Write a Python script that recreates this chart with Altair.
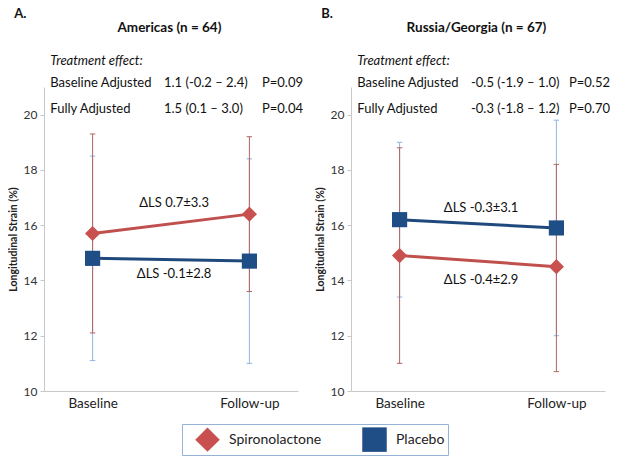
import altair as alt
import pandas as pd

# ---------------- data ----------------
times = ["Baseline", "Follow-up"]
groups = ["Spironolactone", "Placebo"]

# Panel A: Americas
a_spiro_mean = [15.7, 16.4]
a_spiro_lo = [12.1, 13.6]
a_spiro_hi = [19.3, 19.2]
a_plac_mean = [14.8, 14.7]
a_plac_lo = [11.1, 11.0]
a_plac_hi = [18.5, 18.4]
a_delta = ["ΔLS 0.7±3.3", "ΔLS -0.1±2.8"]
a_effect_est = ["1.1 (-0.2 – 2.4)", "1.5 (0.1 – 3.0)"]
a_effect_p = ["P=0.09", "P=0.04"]

# Panel B: Russia/Georgia
b_spiro_mean = [14.9, 14.5]
b_spiro_lo = [11.0, 10.7]
b_spiro_hi = [18.8, 18.2]
b_plac_mean = [16.2, 15.9]
b_plac_lo = [13.4, 12.0]
b_plac_hi = [19.0, 19.8]
b_delta = ["ΔLS -0.3±3.1", "ΔLS -0.4±2.9"]
b_effect_est = ["-0.5 (-1.9 – 1.0)", "-0.3 (-1.8 – 1.2)"]
b_effect_p = ["P=0.52", "P=0.70"]

effect_header = "Treatment effect:"
effect_labels = ["Baseline Adjusted", "Fully Adjusted"]

# ---------------- styles / layout ----------------
FONT = "Lato"
marker_colors = ["#c8504e", "#1f4e87"]
line_colors = ["#c0504d", "#1f497d"]
err_colors = ["#b46461", "#8fb5e3"]
shapes = ["diamond", "square"]

X_DOMAIN = [-0.31, 1.31]
Y_DOMAIN = [10, 21]
W, H = 254, 304

label_expr = " : ".join(
    [f"datum.value == {i} ? '{t}'" for i, t in enumerate(times[:-1])] + [f"'{times[-1]}'"]
)

x_scale = alt.Scale(domain=X_DOMAIN, nice=False, zero=False)
y_scale = alt.Scale(domain=Y_DOMAIN, nice=False, zero=False)

x_axis = alt.Axis(
    values=list(range(len(times))), labelExpr=label_expr, title=None, ticks=False,
    grid=False, domainColor="#c8c8c8", labelFontSize=13.5, labelFont=FONT,
    labelColor="#222", labelPadding=5,
)
y_axis = alt.Axis(
    values=[10, 12, 14, 16, 18, 20], title="Longitudinal Strain (%)", grid=False,
    domainColor="#c8c8c8", tickColor="#c8c8c8", tickSize=4, labelFontSize=12,
    labelFont=FONT, labelColor="#333", labelPadding=3, titleFont=FONT,
    titleFontSize=10.5, titleFontWeight="bold", titleColor="#222", titlePadding=5,
)


def X(field):
    return alt.X(field, type="quantitative", scale=x_scale, axis=x_axis)


def Y(field):
    return alt.Y(field, type="quantitative", scale=y_scale, axis=y_axis)


legend = alt.Legend(
    title=None, orient="none", legendX=138, legendY=337, direction="horizontal",
    symbolSize=600, labelFont=FONT, labelFontSize=14, labelColor="#222",
    strokeColor="#95b3d7", fillColor="white", padding=3, symbolOffset=10,
    labelOffset=9, columnPadding=30, symbolStrokeWidth=0,
)


def make_panel(letter, title, sm, slo, shi, pm, plo, phi, delta, est, pvals):
    rows = []
    for g, m, lo, hi in [(groups[0], sm, slo, shi), (groups[1], pm, plo, phi)]:
        for i, t in enumerate(times):
            rows.append({"group": g, "time": t, "pos": i, "mean": m[i], "lo": lo[i], "hi": hi[i]})
    df = pd.DataFrame(rows)
    base = alt.Chart(df)

    layers = []
    # error bars (placebo drawn first, spiro on top)
    for g, col in [(groups[1], err_colors[1]), (groups[0], err_colors[0])]:
        sub = base.transform_filter(alt.datum.group == g)
        layers.append(sub.mark_rule(color=col, strokeWidth=1).encode(x=X("pos"), y=Y("lo"), y2="hi:Q"))
        layers.append(sub.mark_point(shape="stroke", size=30, color=col, strokeWidth=1, opacity=1).encode(x=X("pos"), y=Y("lo")))
        layers.append(sub.mark_point(shape="stroke", size=30, color=col, strokeWidth=1, opacity=1).encode(x=X("pos"), y=Y("hi")))
    for g, col in [(groups[1], line_colors[1]), (groups[0], line_colors[0])]:
        sub = base.transform_filter(alt.datum.group == g)
        layers.append(sub.mark_line(color=col, strokeWidth=3).encode(x=X("pos"), y=Y("mean")))
    layers.append(
        base.mark_point(filled=True, opacity=1, size=230).encode(
            x=X("pos"), y=Y("mean"),
            color=alt.Color("group:N", scale=alt.Scale(domain=groups, range=marker_colors), legend=legend),
            shape=alt.Shape("group:N", scale=alt.Scale(domain=groups, range=shapes), legend=legend),
        )
    )

    # delta labels between the two time points, just above / below the lines
    hi_line = max(max(sm), max(pm))
    lo_line = min(min(sm), min(pm))
    dl = pd.DataFrame({"text": delta, "x": [0.52, 0.52], "y": [hi_line + 0.42, lo_line - 0.47]})
    layers.append(alt.Chart(dl).mark_text(font=FONT, fontSize=13, color="#111").encode(
        x=X("x"), y=Y("y"), text="text:N"))

    # header texts placed in data units above the plot area
    tt = pd.DataFrame({"text": [title], "x": [0.49], "y": [23.15]})
    layers.append(alt.Chart(tt).mark_text(font=FONT, fontSize=13.5, fontWeight="bold", color="#111").encode(
        x=X("x"), y=Y("y"), text="text:N"))
    lt = pd.DataFrame({"text": [letter], "x": [-0.50], "y": [23.64]})
    layers.append(alt.Chart(lt).mark_text(font=FONT, fontSize=13, fontWeight="bold", align="left", color="#111").encode(
        x=X("x"), y=Y("y"), text="text:N"))
    ht = pd.DataFrame({"text": [effect_header], "x": [-0.27], "y": [21.95]})
    layers.append(alt.Chart(ht).mark_text(font=FONT, fontSize=13, fontStyle="italic", align="left", color="#111").encode(
        x=X("x"), y=Y("y"), text="text:N"))
    row_y = [21.16, 20.22]
    tab = pd.DataFrame({
        "text": effect_labels + est + pvals,
        "x": [-0.27] * 2 + [0.455] * 2 + [1.08] * 2,
        "y": row_y * 3,
    })
    layers.append(alt.Chart(tab).mark_text(font=FONT, fontSize=13, align="left", color="#111").encode(
        x=X("x"), y=Y("y"), text="text:N"))

    return alt.layer(*layers).properties(width=W, height=H)


pa = make_panel("A.", "Americas (n = 64)", a_spiro_mean, a_spiro_lo, a_spiro_hi,
                a_plac_mean, a_plac_lo, a_plac_hi, a_delta, a_effect_est, a_effect_p)
pb = make_panel("B.", "Russia/Georgia (n = 67)", b_spiro_mean, b_spiro_lo, b_spiro_hi,
                b_plac_mean, b_plac_lo, b_plac_hi, b_delta, b_effect_est, b_effect_p)

chart = alt.hconcat(pa, pb, spacing=12).properties(padding=0).configure_view(stroke=None)

chart.save("out.html", embed_options={"renderer": "svg", "actions": False})
